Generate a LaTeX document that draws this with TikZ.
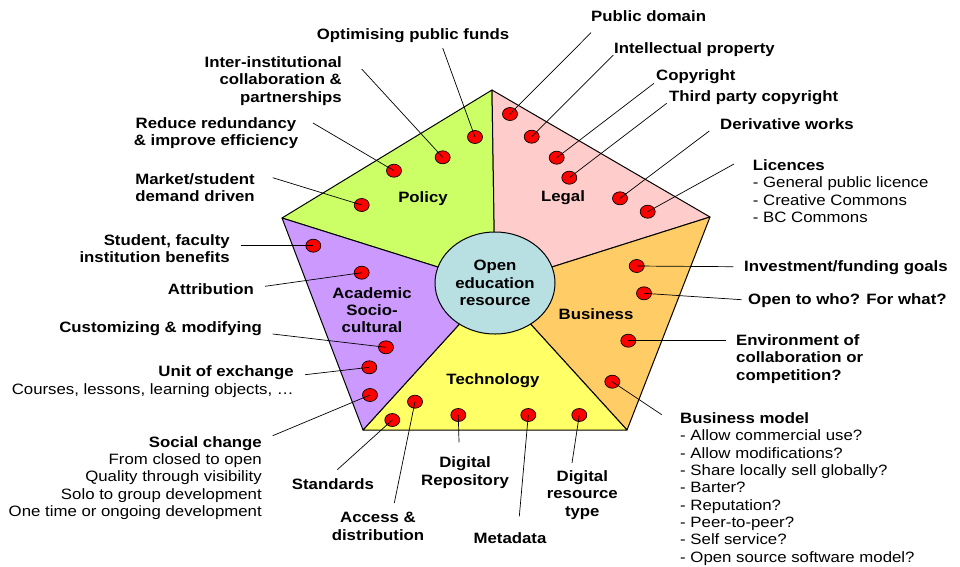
\documentclass[tikz,border=0pt]{standalone}
\usepackage{fontspec}
\setmainfont{Liberation Sans}[FakeStretch=1.12]
\usetikzlibrary{shapes.geometric}

\definecolor{policygreen}{HTML}{CCFF66}
\definecolor{legalpink}{HTML}{FFCCCC}
\definecolor{businessorange}{HTML}{FFCC66}
\definecolor{techyellow}{HTML}{FFFF66}
\definecolor{academicpurple}{HTML}{CC99FF}
\definecolor{hubblue}{HTML}{B8DFE2}

\tikzset{
  sector/.style={draw,line width=1pt,line join=round},
  reddot/.style={ellipse,draw,fill=red,line width=0.7pt,minimum width=15pt,minimum height=13pt,inner sep=0pt},
  lab/.style={inner sep=0pt,font=\fontsize{15}{17.3}\selectfont\bfseries},
  listlab/.style={inner sep=0pt,font=\fontsize{15}{17.3}\selectfont},
  leader/.style={line width=0.7pt},
}

\begin{document}
\begin{tikzpicture}[x=1pt,y=-1pt]
  \fill[white] (0,0) rectangle (960,566);
  \useasboundingbox (0,0) rectangle (960,566);

  \coordinate (T) at (492,90);
  \coordinate (R) at (710,217);
  \coordinate (BR) at (627,430);
  \coordinate (BL) at (363,430);
  \coordinate (L) at (282,218);
  \coordinate (O) at (495,285);

  \draw[sector,fill=policygreen] (L) -- (T) -- (O) -- cycle;
  \draw[sector,fill=legalpink] (T) -- (R) -- (O) -- cycle;
  \draw[sector,fill=businessorange] (R) -- (BR) -- (O) -- cycle;
  \draw[sector,fill=techyellow] (BR) -- (BL) -- (O) -- cycle;
  \draw[sector,fill=academicpurple] (BL) -- (L) -- (O) -- cycle;
  \node[ellipse,draw,line width=1pt,fill=hubblue,minimum width=120pt,minimum height=102pt,
    inner sep=0pt,lab,align=center] (oer) at (495,283) {Open\\education\\resource};

  \node[lab] (policy) at (423,199) {Policy};
  \node[lab] (legal) at (563,198) {Legal};
  \node[lab] (business) at (596,314) {Business};
  \node[lab] (technology) at (493,381) {Technology};
  \node[lab,align=center] (academic) at (372,310) {Academic\\Socio-\\cultural};

  % dots
  \node[reddot] (p1) at (475,137) {};
  \node[reddot] (p2) at (442.7,157.3) {};
  \node[reddot] (p3) at (394,170.7) {};
  \node[reddot] (p4) at (361.7,205) {};
  \node[reddot] (l1) at (510,114) {};
  \node[reddot] (l2) at (531.7,136.7) {};
  \node[reddot] (l3) at (556.7,157.7) {};
  \node[reddot] (l4) at (569.3,177.7) {};
  \node[reddot] (l5) at (620,198.3) {};
  \node[reddot] (l6) at (647.7,211.7) {};
  \node[reddot] (b1) at (636.7,266) {};
  \node[reddot] (b2) at (644,293.3) {};
  \node[reddot] (b3) at (628.3,340.7) {};
  \node[reddot] (b4) at (612.3,381.7) {};
  \node[reddot] (t1) at (415,401.7) {};
  \node[reddot] (t2) at (392.3,420) {};
  \node[reddot] (t3) at (458.3,415) {};
  \node[reddot] (t4) at (528.3,415) {};
  \node[reddot] (t5) at (579.3,415) {};
  \node[reddot] (a1) at (313.3,245.7) {};
  \node[reddot] (a2) at (361.7,272.7) {};
  \node[reddot] (a3) at (386,347.3) {};
  \node[reddot] (a4) at (369.3,367.3) {};
  \node[reddot] (a5) at (370,395) {};

  % policy labels
  \node[lab] (funds) at (413,36) {Optimising public funds};
  \node[lab,align=right,anchor=east] (interinst) at (342,81) {Inter-institutional\\collaboration \&\\partnerships};
  \node[lab,align=center] (redund) at (216,133) {Reduce redundancy\\\& improve efficiency};
  \node[lab,align=center] (market) at (195,187.5) {Market/student\\demand driven};
  \coordinate (p1e) at (442.7,48);
  \coordinate (p2e) at (361.7,69);
  \coordinate (p3e) at (313,123);
  \coordinate (p4e) at (272.7,177.7);

  % academic labels
  \node[lab,align=right,anchor=east] (benefits) at (230,248.5) {Student, faculty\\institution benefits};
  \node[lab,anchor=east] (attrib) at (254,289) {Attribution};
  \node[lab,anchor=east] (custom) at (262,329) {Customizing \& modifying};
  \node[listlab,align=right,anchor=east] (unit) at (294,381.7) {\textbf{Unit of exchange}\\Courses, lessons, learning objects, …};
  \node[listlab,align=right,anchor=east] (social) at (262,478) {\textbf{Social change}\\From closed to open\\Quality through visibility\\Solo to group development\\One time or ongoing development};
  \coordinate (a1e) at (240.7,245.7);
  \coordinate (a2e) at (265,286.3);
  \coordinate (a3e) at (272.7,334);
  \coordinate (a4e) at (305,374.7);
  \coordinate (a5e) at (272.7,435.7);

  % technology labels
  \node[lab] (standards) at (333,484) {Standards};
  \node[lab,align=center] (access) at (378,526.5) {Access \&\\distribution};
  \node[lab,align=center] (repo) at (465,472.5) {Digital\\Repository};
  \node[lab] (metadata) at (510,538) {Metadata};
  \node[lab,align=center] (restype) at (582.3,495) {Digital\\resource\\type};
  \coordinate (t1e) at (394.3,503);
  \coordinate (t2e) at (337.3,469.7);
  \coordinate (t3e) at (459,442.3);
  \coordinate (t4e) at (519.3,516.3);
  \coordinate (t5e) at (572,463);

  % business labels
  \node[lab,anchor=west] (invest) at (744,268) {Investment/funding goals};
  \node[lab,anchor=west] (opento) at (748,301) {Open to who? For what?};
  \node[lab,align=left,anchor=west] (environ) at (736,359) {Environment of\\collaboration or\\competition?};
  \node[listlab,align=left,anchor=west] (model) at (680,489) {\textbf{Business model}\\- Allow commercial use?\\- Allow modifications?\\- Share locally sell globally?\\- Barter?\\- Reputation?\\- Peer-to-peer?\\- Self service?\\- Open source software model?};
  \coordinate (b1e) at (733.3,266.7);
  \coordinate (b2e) at (741.7,299.7);
  \coordinate (b3e) at (725.7,340.7);
  \coordinate (b4e) at (661.7,414.7);

  % legal labels
  \node[lab,anchor=west] (domain) at (591,16) {Public domain};
  \node[lab,anchor=west] (intprop) at (614,50) {Intellectual property};
  \node[lab,anchor=west] (copyr) at (656,77) {Copyright};
  \node[lab,anchor=west] (thirdp) at (669,98) {Third party copyright};
  \node[lab,anchor=west] (deriv) at (720,124.3) {Derivative works};
  \node[listlab,align=left,anchor=west] (licences) at (752.7,191) {\textbf{Licences}\\- General public licence\\- Creative Commons\\- BC Commons};
  \coordinate (l1e) at (591,32.7);
  \coordinate (l2e) at (613.3,55);
  \coordinate (l3e) at (654,83.3);
  \coordinate (l4e) at (666.7,103.3);
  \coordinate (l5e) at (709.3,131);
  \coordinate (l6e) at (734,164);

  \foreach \d in {p1,p2,p3,p4,l1,l2,l3,l4,l5,l6,b1,b2,b3,b4,t1,t2,t3,t4,t5,a1,a2,a3,a4,a5}
    \draw[leader] (\d e) -- (\d.center);
\end{tikzpicture}
\end{document}
